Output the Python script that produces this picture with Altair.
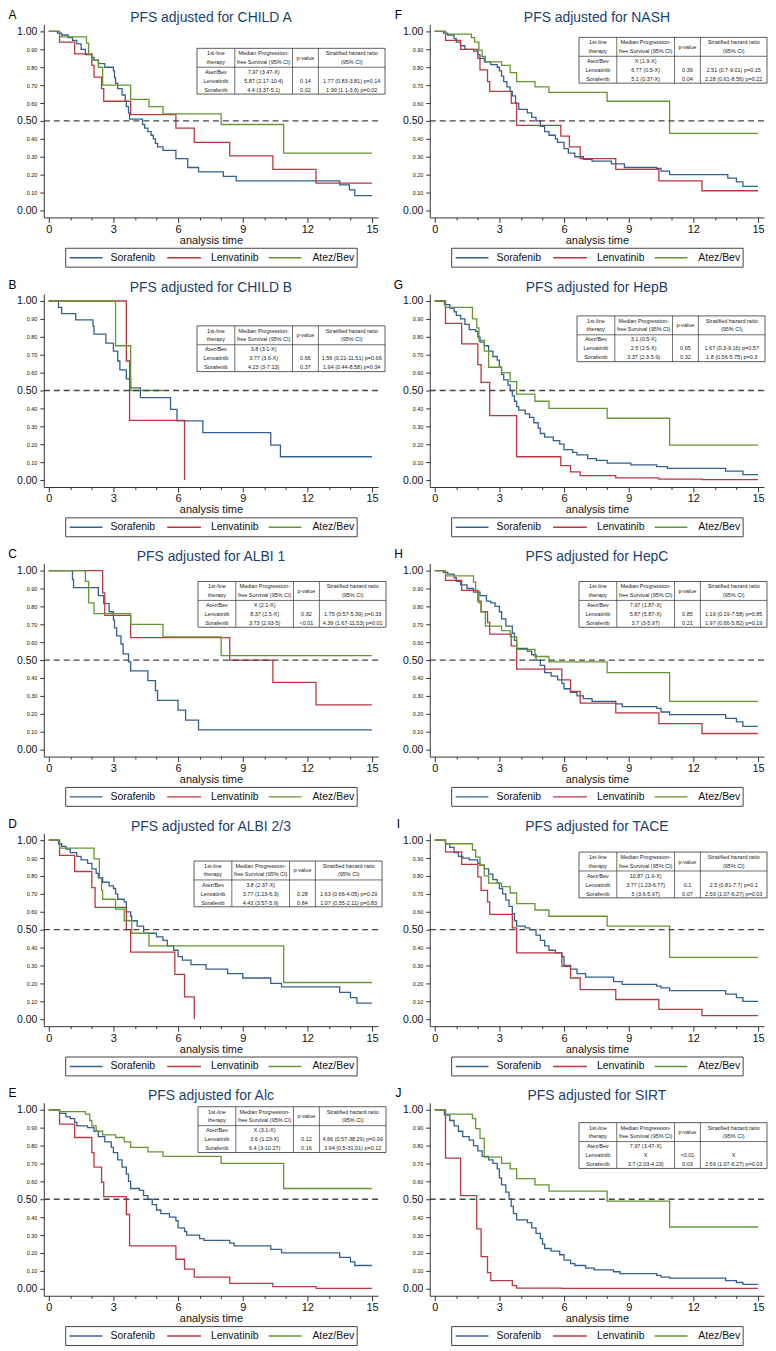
import altair as alt
import pandas as pd

SERIES = ["Sorafenib", "Lenvatinib", "Atez/Bev"]
COLORS = ["#33608f", "#bb3842", "#649632"]
FONT = "Liberation Sans"
TITLE_COLOR = "#1c3f6e"

X_TICKS = list(range(16))
Y_TICKS = [0.0, 0.1, 0.2, 0.3, 0.4, 0.5, 0.6, 0.7, 0.8, 0.9, 1.0]
HEADER = [["1st-line", "therapy"], ["Median Progression-", "free Survival (95% CI)"],
          ["p-value"], ["Stratified hazard ratio", "(95% CI)"]]

# ---------------- Panel A ----------------
a_title = "PFS adjusted for CHILD A"
a_sor = [(0, 1), (0.4, 0.99), (0.6, 0.98), (0.9, 0.965), (1.1, 0.95), (1.3, 0.93), (1.5, 0.9), (1.7, 0.87),
         (2.0, 0.855), (2.1, 0.84), (2.3, 0.82), (2.6, 0.8), (3.0, 0.78), (3.05, 0.74), (3.1, 0.71), (3.2, 0.68),
         (3.4, 0.645), (3.55, 0.61), (3.6, 0.58), (3.7, 0.545), (3.75, 0.51), (4.35, 0.48), (4.45, 0.46),
         (4.6, 0.44), (4.75, 0.42), (4.85, 0.4), (4.95, 0.375), (5.05, 0.355), (5.3, 0.335), (5.9, 0.29),
         (6.45, 0.24), (6.95, 0.215), (8.1, 0.19), (8.7, 0.165), (13.5, 0.143), (13.95, 0.115), (14.2, 0.083),
         (15, 0.083)]
a_len = [(0, 1), (0.5, 0.94), (1.2, 0.875), (2.0, 0.81), (2.1, 0.745), (2.45, 0.68), (2.55, 0.61), (3.8, 0.535),
         (5.9, 0.46), (6.75, 0.38), (8.4, 0.305), (10.4, 0.23), (12.4, 0.153), (15, 0.153)]
a_atz = [(0, 1), (0.5, 0.97), (1.75, 0.935), (1.85, 0.87), (2.0, 0.84), (2.3, 0.8), (2.5, 0.7), (3.8, 0.62),
         (4.65, 0.58), (5.3, 0.54), (8.0, 0.48), (10.9, 0.32), (15, 0.32)]
a_tab = [["Atez/Bev", "7.97 (3.47-X)", "", ""],
         ["Lenvatinib", "5.87 (2.17-10.4)", "0.14", "1.77 (0.83-3.81) p=0.14"],
         ["Sorafenib", "4.4 (3.37-5.1)", "0.02", "1.99 (1.1-3.6) p=0.02"]]

# ---------------- Panel B ----------------
b_title = "PFS adjusted for CHILD B"
b_sor = [(0, 1), (0.45, 0.965), (0.6, 0.93), (1.25, 0.895), (2.05, 0.86), (2.1, 0.815), (2.65, 0.765),
         (3.0, 0.72), (3.2, 0.665), (3.3, 0.615), (3.6, 0.565), (3.8, 0.515), (4.25, 0.46), (5.65, 0.395),
         (5.95, 0.33), (7.15, 0.265), (10.3, 0.195), (10.75, 0.13), (15, 0.13)]
b_len = [(0, 1), (3.6, 0.665), (3.75, 0.333), (6.3, 0.0)]
b_atz = [(0, 1), (3.1, 0.75), (3.8, 0.5), (5.3, 0.5)]
b_tab = [["Atez/Bev", "3.8 (3.1-X)", "", ""],
         ["Lenvatinib", "3.77 (3.6-X)", "0.66", "1.56 (0.21-11.51) p=0.66"],
         ["Sorafenib", "4.23 (3-7.13)", "0.37", "1.94 (0.44-8.58) p=0.34"]]

# ---------------- Panel C ----------------
c_title = "PFS adjusted for ALBI 1"
c_sor = [(0, 1), (1.1, 0.95), (1.15, 0.905), (2.3, 0.86), (2.55, 0.815), (2.8, 0.77), (3.0, 0.725), (3.05, 0.68),
         (3.15, 0.635), (3.35, 0.59), (3.45, 0.535), (3.7, 0.49), (3.8, 0.44), (4.6, 0.385), (4.95, 0.33),
         (5.05, 0.275), (6.0, 0.22), (6.35, 0.165), (6.95, 0.11), (15, 0.11)]
c_len = [(0, 1), (2.5, 0.875), (2.6, 0.75), (3.8, 0.625), (8.4, 0.5), (10.4, 0.375), (12.4, 0.25), (15, 0.25)]
c_atz = [(0, 1), (1.7, 0.94), (1.85, 0.82), (2.1, 0.76), (3.8, 0.7), (5.3, 0.63), (8.0, 0.525), (15, 0.525)]
c_tab = [["Atez/Bev", "X (2.1-X)", "", ""],
         ["Lenvatinib", "8.37 (2.5-X)", "0.32", "1.75 (0.57-5.39) p=0.33"],
         ["Sorafenib", "3.73 (2.93-5)", "<0.01", "4.39 (1.67-11.53) p=0.01"]]

# ---------------- Panel D ----------------
d_title = "PFS adjusted for ALBI 2/3"
d_sor = [(0, 1), (0.45, 0.98), (0.6, 0.965), (0.8, 0.95), (1.0, 0.93), (1.3, 0.91), (1.5, 0.89), (1.8, 0.87),
         (2.0, 0.84), (2.2, 0.815), (2.3, 0.79), (2.5, 0.765), (2.8, 0.745), (3.0, 0.73), (3.1, 0.7), (3.2, 0.67),
         (3.5, 0.655), (3.6, 0.6), (3.8, 0.575), (3.85, 0.55), (4.1, 0.52), (4.4, 0.48), (5.0, 0.46), (5.3, 0.44),
         (5.5, 0.41), (5.8, 0.385), (6.0, 0.35), (6.2, 0.33), (6.6, 0.305), (7.3, 0.28), (8.3, 0.255), (9.0, 0.23),
         (10.3, 0.2), (10.8, 0.18), (13.5, 0.15), (14.0, 0.12), (14.3, 0.09), (15, 0.09)]
d_len = [(0, 1), (0.5, 0.915), (1.2, 0.825), (2.0, 0.735), (2.15, 0.625), (3.6, 0.5), (3.8, 0.375), (5.85, 0.25),
         (6.3, 0.125), (6.75, 0.0)]
d_atz = [(0, 1), (0.5, 0.955), (2.1, 0.895), (2.35, 0.79), (2.45, 0.72), (2.5, 0.67), (3.1, 0.615), (3.5, 0.55),
         (3.85, 0.48), (4.65, 0.41), (10.9, 0.205), (15, 0.205)]
d_tab = [["Atez/Bev", "3.8 (2.37-X)", "", ""],
         ["Lenvatinib", "3.77 (1.23-6.3)", "0.28", "1.63 (0.66-4.05) p=0.29"],
         ["Sorafenib", "4.43 (3.57-5.9)", "0.84", "1.07 (0.55-2.11) p=0.83"]]

# ---------------- Panel E ----------------
e_title = "PFS adjusted for Alc"
e_sor = [(0, 1), (0.5, 0.98), (0.8, 0.96), (1.0, 0.95), (1.2, 0.93), (1.3, 0.91), (1.8, 0.9), (2.1, 0.88),
         (2.3, 0.85), (2.6, 0.82), (2.9, 0.79), (3.0, 0.76), (3.2, 0.72), (3.4, 0.68), (3.6, 0.64), (3.7, 0.6),
         (3.8, 0.56), (4.2, 0.55), (4.4, 0.52), (4.6, 0.5), (4.8, 0.47), (5.0, 0.44), (5.2, 0.42), (5.6, 0.4),
         (5.9, 0.38), (6.0, 0.34), (6.3, 0.32), (6.4, 0.3), (7.0, 0.28), (7.2, 0.27), (8.4, 0.255), (8.6, 0.24),
         (10.3, 0.22), (10.8, 0.2), (13.5, 0.175), (14.0, 0.15), (14.2, 0.13), (15, 0.13)]
e_len = [(0, 1), (0.5, 0.92), (1.2, 0.845), (2.0, 0.76), (2.1, 0.68), (2.45, 0.595), (2.55, 0.515), (3.6, 0.415),
         (3.75, 0.24), (5.9, 0.165), (6.3, 0.11), (6.75, 0.065), (8.4, 0.03), (10.4, 0.012), (12.4, 0.002),
         (15, 0.002)]
e_atz = [(0, 1), (0.5, 0.99), (1.7, 0.975), (1.9, 0.94), (2.0, 0.91), (2.2, 0.88), (2.5, 0.86), (3.1, 0.845),
         (3.5, 0.82), (3.8, 0.79), (4.6, 0.765), (5.3, 0.74), (8.0, 0.7), (10.9, 0.56), (15, 0.56)]
e_tab = [["Atez/Bev", "X (3.1-X)", "", ""],
         ["Lenvatinib", "3.6 (1.23-X)", "0.12", "4.66 (0.57-38.29) p=0.09"],
         ["Sorafenib", "6.4 (3-10.27)", "0.16", "3.94 (0.5-31.01) p=0.12"]]

# ---------------- Panel F ----------------
f_title = "PFS adjusted for NASH"
f_sor = [(0, 1), (0.4, 0.99), (0.6, 0.98), (0.9, 0.96), (1.0, 0.94), (1.2, 0.92), (1.4, 0.9), (1.8, 0.89),
         (2.0, 0.87), (2.1, 0.85), (2.3, 0.83), (2.6, 0.815), (2.9, 0.8), (3.0, 0.78), (3.1, 0.75), (3.2, 0.72),
         (3.35, 0.69), (3.5, 0.665), (3.6, 0.64), (3.75, 0.6), (3.9, 0.565), (4.3, 0.545), (4.5, 0.52), (4.7, 0.5),
         (4.9, 0.47), (5.1, 0.44), (5.3, 0.42), (5.6, 0.4), (5.7, 0.38), (6.0, 0.345), (6.2, 0.32), (6.5, 0.3),
         (6.9, 0.285), (7.3, 0.275), (8.2, 0.26), (8.8, 0.24), (10.3, 0.235), (10.5, 0.22), (10.9, 0.2),
         (13.6, 0.18), (14.0, 0.16), (14.3, 0.135), (15, 0.135)]
f_len = [(0, 1), (0.5, 0.95), (1.2, 0.9), (2.0, 0.85), (2.1, 0.785), (2.45, 0.72), (2.55, 0.665), (3.55, 0.6),
         (3.8, 0.475), (5.85, 0.415), (6.25, 0.355), (6.75, 0.29), (8.4, 0.23), (10.4, 0.165), (12.4, 0.11),
         (15, 0.11)]
f_atz = [(0, 1), (0.5, 0.985), (1.7, 0.965), (1.85, 0.94), (2.05, 0.895), (2.2, 0.86), (2.35, 0.83), (3.1, 0.81),
         (3.5, 0.77), (3.8, 0.72), (4.65, 0.69), (5.3, 0.66), (8.0, 0.61), (10.9, 0.43), (15, 0.43)]
f_tab = [["Atez/Bev", "X (1.9-X)", "", ""],
         ["Lenvatinib", "6.77 (0.5-X)", "0.39", "2.51 (0.7-9.01) p=0.15"],
         ["Sorafenib", "5.1 (0.37-X)", "0.04", "2.28 (0.61-8.56) p=0.22"]]

# ---------------- Panel G ----------------
g_title = "PFS adjusted for HepB"
g_sor = [(0, 1), (0.45, 0.98), (0.7, 0.96), (0.9, 0.94), (1.0, 0.92), (1.2, 0.9), (1.4, 0.87), (1.6, 0.84),
         (1.9, 0.83), (2.0, 0.8), (2.1, 0.77), (2.3, 0.75), (2.5, 0.72), (2.7, 0.69), (2.9, 0.67), (3.0, 0.63),
         (3.1, 0.59), (3.2, 0.56), (3.4, 0.53), (3.5, 0.5), (3.6, 0.47), (3.7, 0.44), (3.8, 0.41), (3.9, 0.39),
         (4.2, 0.37), (4.4, 0.35), (4.6, 0.32), (4.8, 0.29), (4.9, 0.26), (5.1, 0.24), (5.5, 0.22), (5.8, 0.2),
         (6.0, 0.17), (6.4, 0.155), (6.6, 0.14), (7.1, 0.12), (7.5, 0.11), (8.0, 0.095), (9.1, 0.085),
         (10.3, 0.075), (10.8, 0.065), (13.5, 0.05), (14.3, 0.03), (15, 0.03)]
g_len = [(0, 1), (0.5, 0.875), (1.25, 0.76), (2.0, 0.645), (2.15, 0.545), (2.55, 0.36), (3.8, 0.13), (5.85, 0.08),
         (6.3, 0.045), (6.75, 0.025), (8.4, 0.012), (10.4, 0.005), (12.4, 0.002), (15, 0.002)]
g_atz = [(0, 1), (0.5, 0.965), (1.75, 0.9), (1.95, 0.85), (2.05, 0.78), (2.3, 0.72), (2.5, 0.63), (3.1, 0.6),
         (3.5, 0.55), (3.8, 0.48), (4.65, 0.44), (5.3, 0.4), (8.0, 0.345), (10.9, 0.195), (15, 0.195)]
g_tab = [["Atez/Bev", "3.1 (0.5-X)", "", ""],
         ["Lenvatinib", "2.5 (2.5-X)", "0.65", "1.67 (0.3-9.16) p=0.57"],
         ["Sorafenib", "3.37 (2.3-5.9)", "0.32", "1.8 (0.56-5.75) p=0.3"]]

# ---------------- Panel H ----------------
h_title = "PFS adjusted for HepC"
h_sor = [(0, 1), (0.4, 0.99), (0.6, 0.98), (0.9, 0.96), (1.0, 0.94), (1.2, 0.92), (1.5, 0.9), (1.8, 0.88),
         (2.1, 0.86), (2.4, 0.83), (2.6, 0.82), (2.8, 0.8), (3.0, 0.77), (3.1, 0.73), (3.3, 0.69), (3.6, 0.65),
         (3.7, 0.61), (3.8, 0.565), (4.3, 0.55), (4.5, 0.53), (4.7, 0.5), (4.9, 0.47), (5.1, 0.43), (5.4, 0.41),
         (5.7, 0.39), (5.9, 0.37), (6.0, 0.34), (6.3, 0.32), (6.6, 0.3), (6.9, 0.285), (7.3, 0.27), (8.4, 0.255),
         (8.7, 0.24), (10.3, 0.23), (10.5, 0.21), (10.9, 0.195), (13.5, 0.175), (14.0, 0.155), (14.3, 0.13),
         (15, 0.13)]
h_len = [(0, 1), (0.5, 0.945), (1.25, 0.89), (2.0, 0.83), (2.15, 0.77), (2.45, 0.71), (2.55, 0.645), (3.55, 0.58),
         (3.8, 0.45), (5.9, 0.39), (6.3, 0.325), (6.75, 0.26), (8.4, 0.205), (10.4, 0.145), (12.4, 0.09),
         (15, 0.09)]
h_atz = [(0, 1), (0.5, 0.97), (1.8, 0.935), (1.9, 0.885), (2.05, 0.82), (2.15, 0.77), (2.35, 0.69), (3.1, 0.665),
         (3.5, 0.63), (3.8, 0.56), (4.65, 0.52), (5.3, 0.49), (8.0, 0.43), (10.9, 0.27), (15, 0.27)]
h_tab = [["Atez/Bev", "7.97 (1.87-X)", "", ""],
         ["Lenvatinib", "5.87 (5.87-X)", "0.85", "1.19 (0.19-7.58) p=0.85"],
         ["Sorafenib", "3.7 (3-5.97)", "0.21", "1.97 (0.66-5.82) p=0.19"]]

# ---------------- Panel I ----------------
i_title = "PFS adjusted for TACE"
i_sor = [(0, 1), (0.5, 0.98), (0.7, 0.96), (0.9, 0.93), (1.1, 0.91), (1.3, 0.9), (1.6, 0.89), (2.0, 0.87),
         (2.1, 0.86), (2.3, 0.84), (2.5, 0.81), (2.7, 0.78), (2.9, 0.76), (3.0, 0.73), (3.15, 0.7), (3.3, 0.665),
         (3.45, 0.63), (3.6, 0.59), (3.7, 0.55), (3.8, 0.52), (4.2, 0.51), (4.4, 0.5), (4.7, 0.47), (4.9, 0.44),
         (5.1, 0.41), (5.3, 0.385), (5.6, 0.37), (5.9, 0.35), (6.0, 0.3), (6.3, 0.28), (6.6, 0.255), (7.0, 0.235),
         (8.3, 0.21), (8.7, 0.195), (10.3, 0.185), (10.5, 0.175), (10.9, 0.16), (13.5, 0.14), (14.0, 0.12),
         (14.3, 0.1), (15, 0.1)]
i_len = [(0, 1), (0.5, 0.935), (1.25, 0.865), (2.0, 0.795), (2.15, 0.72), (2.45, 0.655), (2.55, 0.585),
         (3.6, 0.51), (3.8, 0.37), (5.9, 0.295), (6.3, 0.23), (6.75, 0.165), (8.4, 0.11), (10.4, 0.055),
         (12.4, 0.02), (15, 0.02)]
i_atz = [(0, 1), (0.5, 0.98), (1.75, 0.945), (1.9, 0.905), (2.1, 0.86), (2.3, 0.8), (2.5, 0.76), (3.1, 0.74),
         (3.5, 0.705), (3.8, 0.645), (4.65, 0.61), (5.3, 0.575), (8.0, 0.52), (10.9, 0.345), (15, 0.345)]
i_tab = [["Atez/Bev", "10.87 (1.9-X)", "", ""],
         ["Lenvatinib", "3.77 (1.23-6.77)", "0.1", "2.5 (0.81-7.7) p=0.1"],
         ["Sorafenib", "5 (3.6-5.97)", "0.07", "2.59 (1.07-6.27) p=0.03"]]

# ---------------- Panel J ----------------
j_title = "PFS adjusted for SIRT"
j_sor = [(0, 1), (0.45, 0.97), (0.7, 0.94), (0.9, 0.91), (1.1, 0.88), (1.3, 0.85), (1.6, 0.83), (1.8, 0.8),
         (2.0, 0.77), (2.2, 0.74), (2.5, 0.72), (2.7, 0.7), (2.9, 0.67), (3.0, 0.62), (3.1, 0.58), (3.3, 0.54),
         (3.45, 0.5), (3.55, 0.46), (3.65, 0.42), (3.8, 0.385), (4.3, 0.37), (4.5, 0.34), (4.7, 0.31), (4.9, 0.28),
         (5.0, 0.25), (5.1, 0.225), (5.4, 0.21), (5.8, 0.19), (6.0, 0.16), (6.3, 0.14), (6.5, 0.13), (7.0, 0.115),
         (7.4, 0.105), (8.3, 0.095), (8.6, 0.085), (10.3, 0.075), (10.5, 0.065), (10.9, 0.06), (13.5, 0.045),
         (14.0, 0.035), (14.3, 0.025), (15, 0.025)]
j_len = [(0, 1), (0.5, 0.73), (1.2, 0.52), (1.95, 0.335), (2.15, 0.18), (2.45, 0.09), (2.6, 0.045), (3.6, 0.018),
         (3.8, 0.004), (5.9, 0.002), (15, 0.002)]
j_atz = [(0, 1), (0.5, 0.975), (1.75, 0.95), (1.9, 0.895), (2.1, 0.84), (2.3, 0.735), (3.1, 0.7), (3.5, 0.67),
         (3.8, 0.615), (4.65, 0.58), (5.3, 0.545), (8.0, 0.49), (10.9, 0.345), (15, 0.345)]
j_tab = [["Atez/Bev", "7.97 (3.47-X)", "", ""],
         ["Lenvatinib", "X", "<0.01", "X"],
         ["Sorafenib", "3.7 (2.03-4.23)", "0.03", "2.59 (1.07-6.27) p=0.03"]]

PANELS = {
    "A": (a_title, (a_sor, a_len, a_atz), a_tab),
    "B": (b_title, (b_sor, b_len, b_atz), b_tab),
    "C": (c_title, (c_sor, c_len, c_atz), c_tab),
    "D": (d_title, (d_sor, d_len, d_atz), d_tab),
    "E": (e_title, (e_sor, e_len, e_atz), e_tab),
    "F": (f_title, (f_sor, f_len, f_atz), f_tab),
    "G": (g_title, (g_sor, g_len, g_atz), g_tab),
    "H": (h_title, (h_sor, h_len, h_atz), h_tab),
    "I": (i_title, (i_sor, i_len, i_atz), i_tab),
    "J": (j_title, (j_sor, j_len, j_atz), j_tab),
}
ORDER = ["A", "F", "B", "G", "C", "H", "D", "I", "E", "J"]

# ---------------- layout (pixels, relative to each plot area) ----------------
W, H = 336, 194
XDOM = [-0.23, 15.28]
YDOM = [-0.039, 1.039]
TABLE_POS = {"A": (154, 24), "B": (154, 32), "C": (155, 18), "D": (151, 28), "E": (155, 4),
             "F": (150, 13), "G": (148, 22), "H": (150, 18), "I": (150, 19), "J": (150, 20)}
TAB_COLS = [38, 58, 26, 67]
TAB_HEAD_H = 19
TAB_ROW_H = 9
LEG_BOX = (22, 315, 225, 244)
LEG_SYM = [(26, 59), (124, 158), (226, 259)]
LEG_LAB = [67, 168, 270]
LETTER_POS = (-31.5, -9.5)
TITLE_POS = (W / 2, -2.5)


def px(f):
    return alt.X(f + ":Q", scale=None, axis=None)


def py(f):
    return alt.Y(f + ":Q", scale=None, axis=None)


def make_panel(key):
    title, curves, tab = PANELS[key]
    rows = []
    for name, pts in zip(SERIES, curves):
        for i, (t, s) in enumerate(pts):
            rows.append({"series": name, "t": t, "s": s, "i": i})
    df = pd.DataFrame(rows)
    xscale = alt.Scale(domain=XDOM, nice=False, zero=False)
    yscale = alt.Scale(domain=YDOM, nice=False, zero=False)
    cscale = alt.Scale(domain=SERIES, range=COLORS)
    x_axis = alt.Axis(
        title="analysis time", values=X_TICKS,
        labelExpr="datum.value % 3 == 0 ? datum.label : ''",
        tickSize={"condition": {"test": "datum.value % 3 == 0", "value": 5}, "value": 2.5},
        labelFontSize=11, labelPadding=1, labelOverlap=False, labelFlush=False,
        titleFontSize=11, titleFontWeight="normal", titlePadding=0, grid=False,
        domainColor="#333", tickColor="#333", labelColor="#111", titleColor="#111")
    y_axis = alt.Axis(
        title=None, values=Y_TICKS, format=".2f",
        labelFontSize={"condition": {"test": "datum.value == 0 || datum.value == 0.5 || datum.value == 1",
                                     "value": 10.5}, "value": 5.5},
        tickSize=4, labelPadding=3, grid=False, labelOverlap=False, labelFlush=False,
        domainColor="#333", tickColor="#333", labelColor="#111")
    lines = alt.Chart(df).mark_line(interpolate="step-after", strokeWidth=1.3).encode(
        x=alt.X("t:Q", scale=xscale, axis=x_axis),
        y=alt.Y("s:Q", scale=yscale, axis=y_axis),
        color=alt.Color("series:N", scale=cscale, legend=None),
        order=alt.Order("i:Q"),
    )
    ref = alt.Chart(pd.DataFrame({"s": [0.5]})).mark_rule(
        color="#444", strokeDash=[6, 4], strokeWidth=1.3).encode(
        y=alt.Y("s:Q", scale=yscale, axis=y_axis))

    # table
    left, top = TABLE_POS[key]
    xs = [left]
    for w in TAB_COLS:
        xs.append(xs[-1] + w)
    th = TAB_HEAD_H + 3 * TAB_ROW_H
    frame = alt.Chart(pd.DataFrame({"x": [left], "x2": [xs[-1]], "y": [top], "y2": [top + th]})).mark_rect(
        fill="white", stroke="#333", strokeWidth=0.8).encode(
        x=px("x"), x2="x2:Q", y=py("y"), y2="y2:Q")
    segs = [{"x": xs[k], "x2": xs[k], "y": top, "y2": top + th} for k in (1, 2, 3)]
    segs.append({"x": left, "x2": xs[-1], "y": top + TAB_HEAD_H, "y2": top + TAB_HEAD_H})
    grid = alt.Chart(pd.DataFrame(segs)).mark_rule(color="#333", strokeWidth=0.7).encode(
        x=px("x"), x2="x2:Q", y=py("y"), y2="y2:Q")
    cells = []
    for k in range(4):
        cx = (xs[k] + xs[k + 1]) / 2
        hl = HEADER[k]
        if len(hl) == 2:
            cells.append({"px": cx, "py": top + 5, "txt": hl[0]})
            cells.append({"px": cx, "py": top + 13.5, "txt": hl[1]})
        else:
            cells.append({"px": cx, "py": top + 9.5, "txt": hl[0]})
        for r in range(3):
            if tab[r][k]:
                cells.append({"px": cx, "py": top + TAB_HEAD_H + 4.7 + r * TAB_ROW_H, "txt": tab[r][k]})
    text = alt.Chart(pd.DataFrame(cells)).mark_text(fontSize=5.5, color="#222", font=FONT).encode(
        x=px("px"), y=py("py"), text="txt:N")

    # legend box
    lb = alt.Chart(pd.DataFrame({"x": [LEG_BOX[0]], "x2": [LEG_BOX[1]], "y": [LEG_BOX[2]],
                                 "y2": [LEG_BOX[3]]})).mark_rect(
        fill="white", stroke="#444", strokeWidth=1).encode(x=px("x"), x2="x2:Q", y=py("y"), y2="y2:Q")
    ly = (LEG_BOX[2] + LEG_BOX[3]) / 2
    leg_df = pd.DataFrame({"series": SERIES,
                           "x": [a for a, b in LEG_SYM], "x2": [b for a, b in LEG_SYM],
                           "lx": LEG_LAB, "y": [ly] * 3})
    lsym = alt.Chart(leg_df).mark_rule(strokeWidth=1.4).encode(
        x=px("x"), x2="x2:Q", y=py("y"), y2="y:Q",
        color=alt.Color("series:N", scale=cscale, legend=None))
    ltxt = alt.Chart(leg_df).mark_text(fontSize=10.5, align="left", color="#111", font=FONT).encode(
        x=px("lx"), y=py("y"), text="series:N")

    heads = alt.Chart(pd.DataFrame({"px": [TITLE_POS[0]], "py": [TITLE_POS[1]], "txt": [title]})).mark_text(
        fontSize=14, color=TITLE_COLOR, font=FONT, baseline="alphabetic").encode(
        x=px("px"), y=py("py"), text="txt:N")
    letter = alt.Chart(pd.DataFrame({"px": [LETTER_POS[0]], "py": [LETTER_POS[1]], "txt": [key]})).mark_text(
        fontSize=12, color="#000", font=FONT).encode(x=px("px"), y=py("py"), text="txt:N")

    return alt.layer(lines, ref, frame, grid, text, lb, lsym, ltxt, heads, letter).properties(
        width=W, height=H)


chart = alt.concat(*[make_panel(k) for k in ORDER], columns=2,
                   spacing={"row": 77, "column": 52}, bounds="flush").properties(
    padding={"left": 0, "top": -3, "right": 0, "bottom": 0}
).configure_view(stroke=None).configure_axis(labelFont=FONT, titleFont=FONT).configure_text(font=FONT)

chart.save("out.html", embed_options={"renderer": "svg", "actions": False})
